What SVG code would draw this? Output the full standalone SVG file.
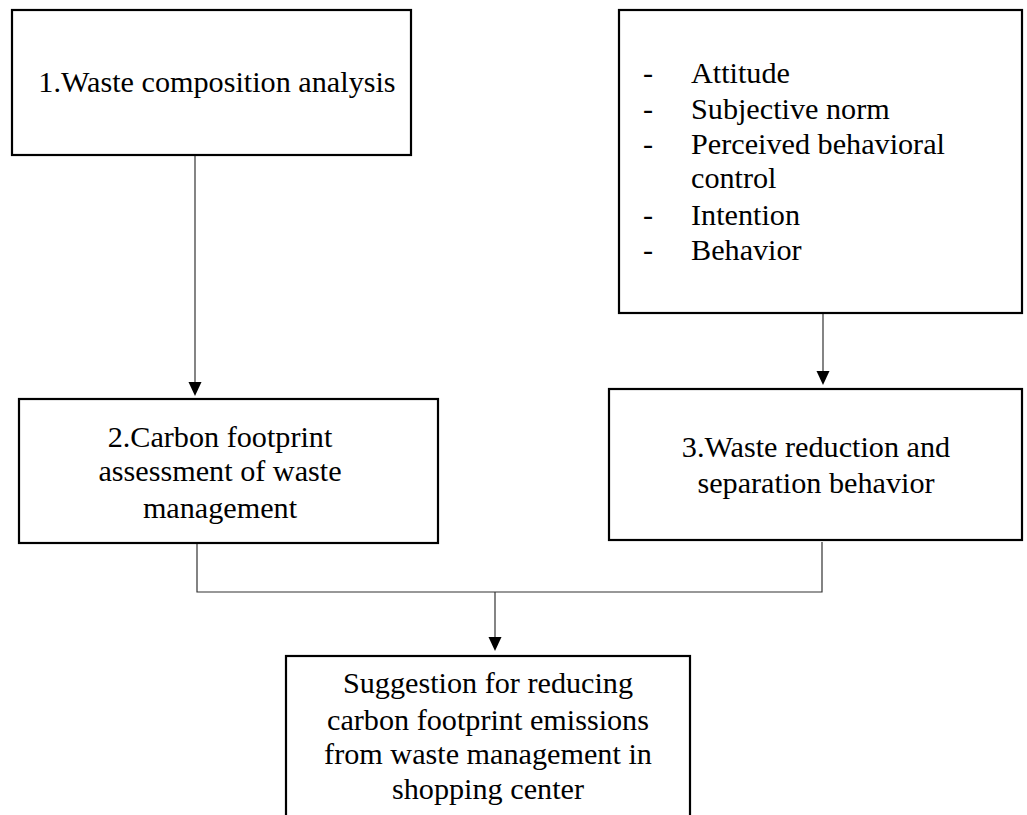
<svg xmlns="http://www.w3.org/2000/svg" width="1027" height="815" viewBox="0 0 1027 815">
<style>
.box{fill:#fff;stroke:#000;stroke-width:2.2}
.t{font-family:"Liberation Serif","Times New Roman",serif;font-size:30.2px;fill:#000}
.c{text-anchor:middle}
.ln{fill:none;stroke:#333;stroke-width:1.2}
.ah{fill:#000}
</style>
<rect width="1027" height="815" fill="#fff"/>
<g id="connectors">
<line class="ln" x1="195" y1="156" x2="195" y2="384"/>
<polygon class="ah" points="188.5,382 201.5,382 195,396"/>
<line class="ln" x1="823" y1="314" x2="823" y2="372"/>
<polygon class="ah" points="816.5,371 829.5,371 823,385"/>
<polyline class="ln" points="197,544 197,592 822,592 822,542"/>
<line class="ln" x1="495" y1="592" x2="495" y2="638"/>
<polygon class="ah" points="488.5,637 501.5,637 495,651"/>
</g>
<g id="node1">
<rect class="box" x="12" y="10" width="399" height="145"/>
<text class="t c" x="217" y="92">1.Waste composition analysis</text>
</g>
<g id="node-tpb">
<rect class="box" x="619" y="10" width="403" height="303"/>
<text class="t" x="643" y="83">-</text>
<text class="t" x="691" y="83">Attitude</text>
<text class="t" x="643" y="119">-</text>
<text class="t" x="691" y="119">Subjective norm</text>
<text class="t" x="643" y="154">-</text>
<text class="t" x="691" y="154">Perceived behavioral</text>
<text class="t" x="691" y="188">control</text>
<text class="t" x="643" y="225">-</text>
<text class="t" x="691" y="225">Intention</text>
<text class="t" x="643" y="260">-</text>
<text class="t" x="691" y="260">Behavior</text>
</g>
<g id="node2">
<rect class="box" x="19" y="399" width="419" height="144"/>
<text class="t c" x="220" y="447">2.Carbon footprint</text>
<text class="t c" x="220" y="481">assessment of waste</text>
<text class="t c" x="220" y="518">management</text>
</g>
<g id="node3">
<rect class="box" x="609" y="389" width="413" height="151"/>
<text class="t c" x="816" y="457">3.Waste reduction and</text>
<text class="t c" x="816" y="493">separation behavior</text>
</g>
<g id="node4">
<rect class="box" x="286" y="656" width="404" height="170"/>
<text class="t c" x="488" y="693">Suggestion for reducing</text>
<text class="t c" x="488" y="730">carbon footprint emissions</text>
<text class="t c" x="488" y="764">from waste management in</text>
<text class="t c" x="488" y="799">shopping center</text>
</g>
</svg>
